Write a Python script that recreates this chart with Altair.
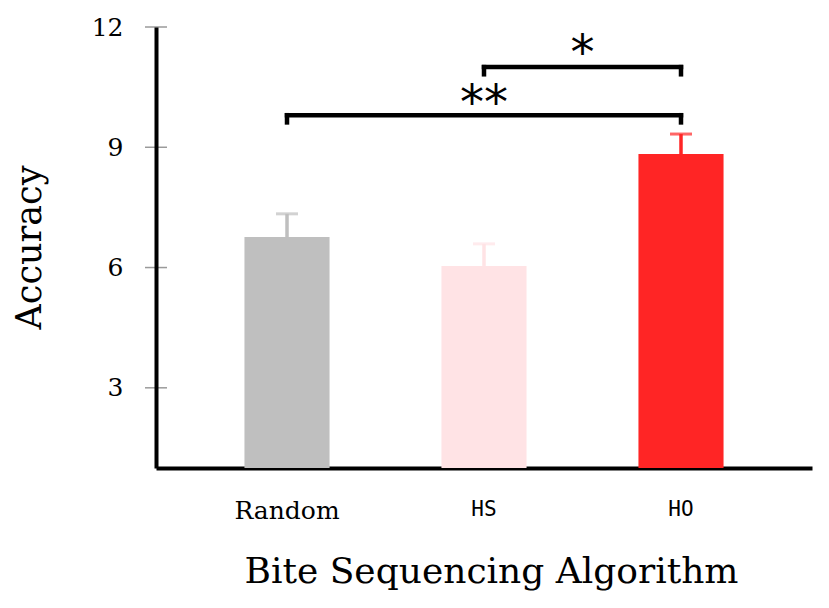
import altair as alt
import pandas as pd

# ---- data ----
algorithms = ["Random", "HS", "HO"]
accuracy = [6.76, 6.04, 8.83]
upper = [7.34, 6.59, 9.33]
bar_colors = ["#bfbfbf", "#ffe3e5", "#ff2525"]

y_ticks = [3, 6, 9, 12]

bracket_from = ["Random", "HS"]
bracket_to = ["HO", "HO"]
bracket_top = [9.80, 11.00]
bracket_bottom = [9.62, 10.82]
bracket_label = ["**", "*"]
label_cat = ["HS", "HO"]
label_y = [10.24, 11.48]
label_shift = [42.5, -56]

bars_df = pd.DataFrame({"algorithm": algorithms, "acc": accuracy, "upper": upper})
ticks_df = pd.DataFrame({"v": y_ticks})
br_df = pd.DataFrame({"from": bracket_from, "to": bracket_to, "top": bracket_top, "bottom": bracket_bottom})
drops_df = pd.DataFrame({
    "cat": bracket_from + bracket_to,
    "top": bracket_top + bracket_top,
    "bottom": bracket_bottom + bracket_bottom,
})
lab_df = pd.DataFrame({"cat": label_cat, "y": label_y, "label": bracket_label, "shift": label_shift})

SERIF = "DejaVu Serif"
MONO = "DejaVu Sans Mono"

xscale = alt.Scale(domain=algorithms, paddingInner=0.568, paddingOuter=0.449)
yscale = alt.Scale(domain=[1, 12], nice=False, zero=False)

x_axis = alt.Axis(
    labelAngle=0,
    ticks=False,
    tickSize=0,
    domainColor="black",
    domainWidth=4,
    labelColor="black",
    labelFont={"condition": {"test": "datum.value == 'Random'", "value": SERIF}, "value": MONO},
    labelFontSize={"condition": {"test": "datum.value == 'Random'", "value": 25}, "value": 21},
    labelPadding=30,
    titleFont=SERIF,
    titleFontSize=36,
    titleFontWeight="normal",
    titleColor="black",
    titlePadding=31,
    titleX=335,
    grid=False,
)
y_axis = alt.Axis(
    values=y_ticks,
    ticks=False,
    tickSize=0,
    domainColor="black",
    domainWidth=4,
    labelColor="black",
    labelFont=SERIF,
    labelFontSize=25,
    labelPadding=33,
    titleFont=SERIF,
    titleFontSize=35,
    titleFontWeight="normal",
    titleColor="black",
    titleX=-109,
    titleY=220,
    grid=False,
    zindex=1,
)

tick_rules = alt.Chart(ticks_df).mark_rule(color="#9a9a9a", strokeWidth=1.5).encode(
    y=alt.Y("v:Q", scale=yscale, axis=y_axis, title="Accuracy"),
    x=alt.value(-11),
    x2=alt.value(11),
)

color = alt.Color("algorithm:N", scale=alt.Scale(domain=algorithms, range=bar_colors), legend=None)

bars = alt.Chart(bars_df).mark_bar().encode(
    x=alt.X("algorithm:N", scale=xscale, axis=x_axis, title="Bite Sequencing Algorithm"),
    y=alt.Y("acc:Q", scale=yscale, title="Accuracy"),
    y2=alt.datum(1),
    color=color,
)

stems = alt.Chart(bars_df).mark_rule(strokeWidth=3.5).encode(
    x=alt.X("algorithm:N", scale=xscale, bandPosition=0.5, title="Bite Sequencing Algorithm"),
    y=alt.Y("acc:Q", scale=yscale, title="Accuracy"),
    y2="upper:Q",
    color=color,
)

caps = alt.Chart(bars_df).mark_tick(size=22, thickness=3).encode(
    x=alt.X("algorithm:N", scale=xscale, bandPosition=0.5, title="Bite Sequencing Algorithm"),
    y=alt.Y("upper:Q", scale=yscale, title="Accuracy"),
    color=color,
)

br_h = alt.Chart(br_df).mark_rule(color="black", strokeWidth=4.5, strokeCap="square").encode(
    x=alt.X("from:N", scale=xscale, bandPosition=0.5, title="Bite Sequencing Algorithm"),
    x2="to:N",
    y=alt.Y("top:Q", scale=yscale, title="Accuracy"),
)

br_v = alt.Chart(drops_df).mark_rule(color="black", strokeWidth=4.5, strokeCap="square").encode(
    x=alt.X("cat:N", scale=xscale, bandPosition=0.5, title="Bite Sequencing Algorithm"),
    y=alt.Y("top:Q", scale=yscale, title="Accuracy"),
    y2="bottom:Q",
)

stars = alt.Chart(lab_df).mark_text(font="DejaVu Sans", fontSize=48, color="black", baseline="middle", dy=7).encode(
    x=alt.X("cat:N", scale=xscale, title="Bite Sequencing Algorithm"),
    y=alt.Y("y:Q", scale=yscale, title="Accuracy"),
    text="label:N",
    xOffset=alt.XOffset("shift:Q", scale=None),
)

chart = alt.layer(tick_rules, bars, stems, caps, br_h, br_v, stars).properties(
    width=656,
    height=441,
    padding={"left": 148, "top": 19, "right": 5, "bottom": 125},
    autosize=alt.AutoSizeParams(type="none"),
    background="white",
).configure_view(stroke=None)

chart.save("out.html", embed_options={"renderer": "svg", "actions": False})
